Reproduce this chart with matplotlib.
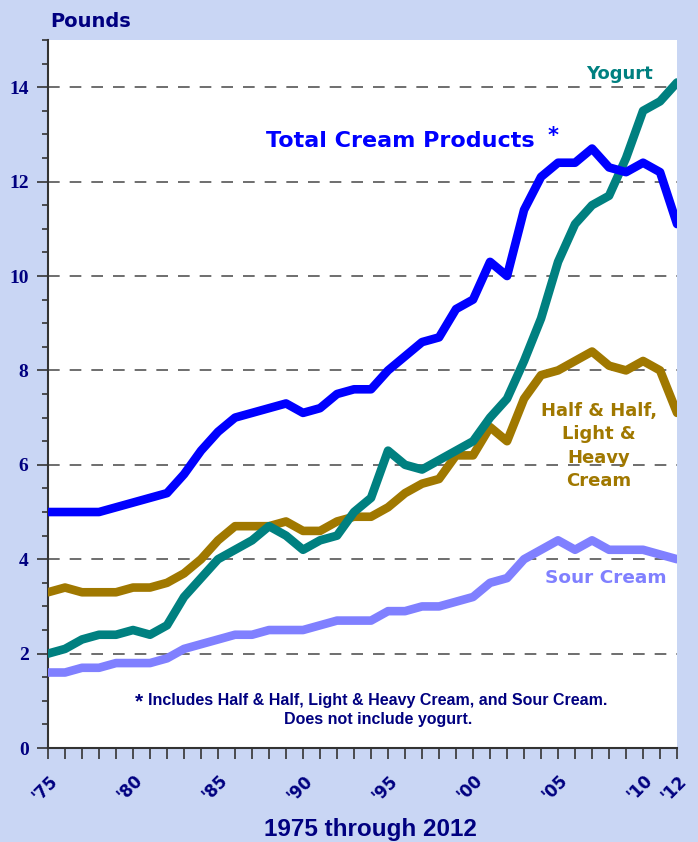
import matplotlib
matplotlib.use("Agg")
import matplotlib.pyplot as plt
from matplotlib.ticker import MultipleLocator

# per capita consumption, pounds, 1975-2012
years = list(range(1975, 2013))

total_cream = [5.0, 5.0, 5.0, 5.0, 5.1, 5.2, 5.3, 5.4, 5.8, 6.3,
               6.7, 7.0, 7.1, 7.2, 7.3, 7.1, 7.2, 7.5, 7.6, 7.6,
               8.0, 8.3, 8.6, 8.7, 9.3, 9.5, 10.3, 10.0, 11.4, 12.1,
               12.4, 12.4, 12.7, 12.3, 12.2, 12.4, 12.2, 11.1]

yogurt = [2.0, 2.1, 2.3, 2.4, 2.4, 2.5, 2.4, 2.6, 3.2, 3.6,
          4.0, 4.2, 4.4, 4.7, 4.5, 4.2, 4.4, 4.5, 5.0, 5.3,
          6.3, 6.0, 5.9, 6.1, 6.3, 6.5, 7.0, 7.4, 8.2, 9.1,
          10.3, 11.1, 11.5, 11.7, 12.5, 13.5, 13.7, 14.1]

half_half = [3.3, 3.4, 3.3, 3.3, 3.3, 3.4, 3.4, 3.5, 3.7, 4.0,
             4.4, 4.7, 4.7, 4.7, 4.8, 4.6, 4.6, 4.8, 4.9, 4.9,
             5.1, 5.4, 5.6, 5.7, 6.2, 6.2, 6.8, 6.5, 7.4, 7.9,
             8.0, 8.2, 8.4, 8.1, 8.0, 8.2, 8.0, 7.1]

sour_cream = [1.6, 1.6, 1.7, 1.7, 1.8, 1.8, 1.8, 1.9, 2.1, 2.2,
              2.3, 2.4, 2.4, 2.5, 2.5, 2.5, 2.6, 2.7, 2.7, 2.7,
              2.9, 2.9, 3.0, 3.0, 3.1, 3.2, 3.5, 3.6, 4.0, 4.2,
              4.4, 4.2, 4.4, 4.2, 4.2, 4.2, 4.1, 4.0]

xtick_years = [1975, 1980, 1985, 1990, 1995, 2000, 2005, 2010, 2012]
xtick_labels = ["'75", "'80", "'85", "'90", "'95", "'00", "'05", "'10", "'12"]

navy = "#000080"
wide = "DejaVu Sans"
arial = "Liberation Sans"

fig = plt.figure(figsize=(6.98, 8.42), dpi=100)
fig.patch.set_facecolor("#c9d6f4")
ax = fig.add_axes([0.0688, 0.1116, 0.9012, 0.8409])
ax.set_facecolor("white")

ax.plot(years, sour_cream, color="#8080ff", lw=6.2, solid_capstyle="round", zorder=3)
ax.plot(years, half_half, color="#a07800", lw=6.2, solid_capstyle="round", zorder=3)
ax.plot(years, yogurt, color="#008080", lw=6.2, solid_capstyle="round", zorder=4)
ax.plot(years, total_cream, color="#0000ff", lw=6.2, solid_capstyle="round", zorder=5)

ax.set_xlim(1975, 2012)
ax.set_ylim(0, 15)

# dashed grid on the even values
for v in range(2, 15, 2):
    ax.axhline(v, color="#555555", lw=1.2, ls=(0, (7, 6)), zorder=1)

ax.yaxis.set_minor_locator(MultipleLocator(0.5))
ax.set_yticks(range(0, 15, 2))
ax.set_yticklabels([str(v) for v in range(0, 15, 2)], fontfamily="Liberation Serif",
                   fontweight="bold", fontsize=14, color=navy)
ax.tick_params(axis="y", which="major", length=8, width=1.2, color="#333333", pad=6)
ax.tick_params(axis="y", which="minor", length=4, width=1.2, color="#333333")

ax.set_xticks(years, minor=True)
ax.set_xticks(xtick_years)
ax.set_xticklabels(xtick_labels, rotation=45, ha="right", rotation_mode="anchor",
                   fontfamily=wide, fontweight="bold", fontsize=12, color=navy)
ax.tick_params(axis="x", which="both", length=8, width=1.2, color="#333333", pad=9)

for side in ["top", "right"]:
    ax.spines[side].set_visible(False)
for side in ["left", "bottom"]:
    ax.spines[side].set_color("#333333")
    ax.spines[side].set_linewidth(1.5)

# series labels
ax.text(2008.6, 14.27, "Yogurt", color="#008080", fontfamily=wide, fontweight="bold",
        fontsize=13, ha="center", va="center")
ax.text(1987.8, 12.85, "Total Cream Products", color="#0000ff", fontfamily=wide,
        fontweight="bold", fontsize=16, ha="left", va="center")
ax.text(2004.4, 12.97, "*", color="#0000ff", fontfamily=wide, fontweight="bold",
        fontsize=15, ha="left", va="center")
ax.text(2007.4, 6.4, "Half & Half,\nLight &\nHeavy\nCream", color="#a07800",
        fontfamily=wide, fontweight="bold", fontsize=13, ha="center", va="center",
        linespacing=1.38)
ax.text(2007.8, 3.6, "Sour Cream", color="#8080ff", fontfamily=wide, fontweight="bold",
        fontsize=13.3, ha="center", va="center")

# footnote
ax.text(1980.1, 0.97, "*", color=navy, fontfamily=arial, fontweight="bold",
        fontsize=15, ha="left", va="center")
ax.text(1994.4, 0.81, "Includes Half & Half, Light & Heavy Cream, and Sour Cream.\n"
        "Does not include yogurt.", color=navy, fontfamily=arial, fontweight="bold",
        fontsize=11.5, ha="center", va="center", linespacing=1.35)

fig.text(0.0716, 0.974, "Pounds", color=navy, fontfamily=wide, fontweight="bold",
         fontsize=14, ha="left", va="center")
fig.text(0.53, 0.0154, "1975 through 2012", color=navy, fontfamily=arial,
         fontweight="bold", fontsize=17.5, ha="center", va="center")

fig.savefig("out.png", dpi=100, facecolor=fig.get_facecolor())
